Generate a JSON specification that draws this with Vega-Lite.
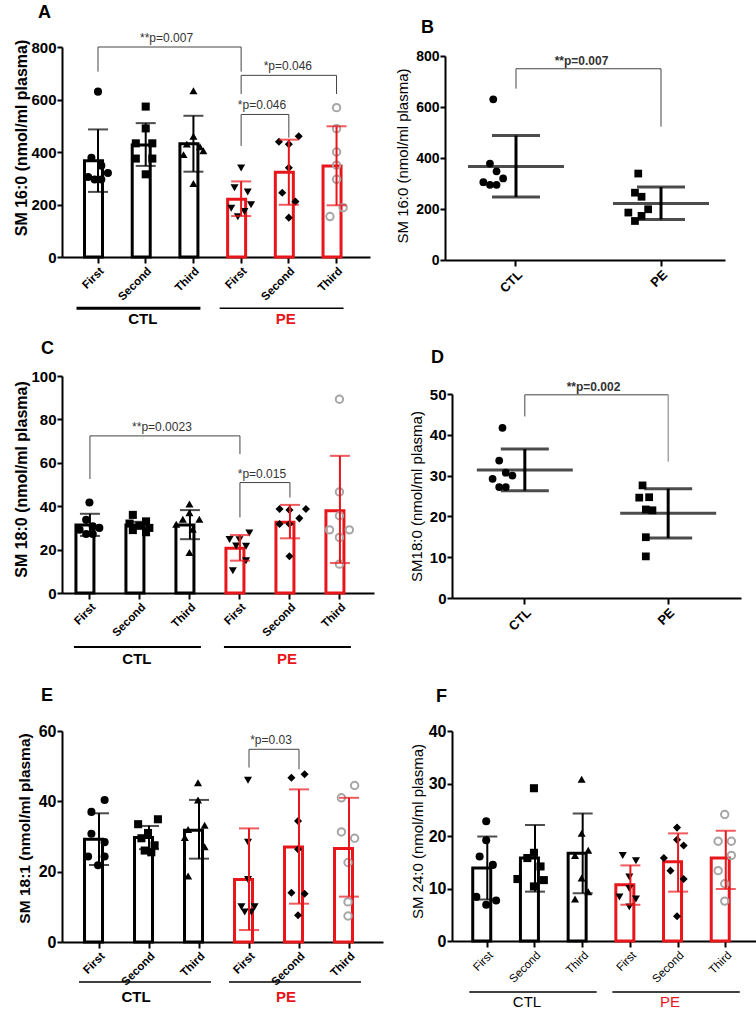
{
"$schema": "https://vega.github.io/schema/vega-lite/v6.json",
"background": "white",
"padding": {"left": 12, "top": 4, "right": 0, "bottom": 0},
"columns": 2,
"spacing": {"row": 116, "column": 69},
"bounds": "flush",
"align": "each",
"datasets": {
"grp": [
{"g":"CTL","c1":"CTL First","c2":"CTL Second","c3":"CTL Third"},
{"g":"PE","c1":"PE First","c2":"PE Second","c3":"PE Third"}
],
"br": [
{"p":"A","a":"CTL First","b":"PE First","top":800,"la":706,"lb":706,"t":"**p=0.007","tc":"CTL Second","mode":"mid"},
{"p":"A","a":"PE First","b":"PE Third","top":692,"la":621,"lb":621,"t":"*p=0.046","tc":"PE Second","mode":"at"},
{"p":"A","a":"PE First","b":"PE Second","top":543,"la":423,"lb":455,"t":"*p=0.046","tc":"PE First","mode":"mid"},
{"p":"B","a":"CTL","b":"PE","top":750,"la":672,"lb":523,"t":"**p=0.007","tc":"CTL","mode":"mid"},
{"p":"C","a":"CTL First","b":"PE First","top":72.4,"la":52.5,"lb":64,"t":"**p=0.0023","tc":"CTL Second","mode":"mid"},
{"p":"C","a":"PE First","b":"PE Second","top":50.9,"la":34.8,"lb":44,"t":"*p=0.015","tc":"PE First","mode":"mid"},
{"p":"D","a":"CTL","b":"PE","top":49.8,"la":44.5,"lb":33.4,"t":"**p=0.002","tc":"CTL","mode":"mid"},
{"p":"E","a":"PE First","b":"PE Second","top":54.8,"la":49.6,"lb":49.1,"t":"*p=0.03","tc":"PE First","mode":"mid"}
],
"summ": [
{"p":"A","g":"CTL","cat":"CTL First","m":367,"lo":248,"hi":486},
{"p":"A","g":"CTL","cat":"CTL Second","m":427,"lo":347,"hi":510},
{"p":"A","g":"CTL","cat":"CTL Third","m":431,"lo":325,"hi":538},
{"p":"A","g":"PE","cat":"PE First","m":220,"lo":156,"hi":288},
{"p":"A","g":"PE","cat":"PE Second","m":323,"lo":199,"hi":447},
{"p":"A","g":"PE","cat":"PE Third","m":347,"lo":197,"hi":498},
{"p":"B","g":"CTL","cat":"CTL","m":367,"lo":247,"hi":488},
{"p":"B","g":"PE","cat":"PE","m":222,"lo":159,"hi":286},
{"p":"C","g":"CTL","cat":"CTL First","m":31.3,"lo":26.3,"hi":36.5},
{"p":"C","g":"CTL","cat":"CTL Second","m":31.3,"lo":29.8,"hi":32.8},
{"p":"C","g":"CTL","cat":"CTL Third","m":31.3,"lo":24.8,"hi":38.2},
{"p":"C","g":"PE","cat":"PE First","m":20.6,"lo":14.9,"hi":26.7},
{"p":"C","g":"PE","cat":"PE Second","m":32.6,"lo":25.2,"hi":40.6},
{"p":"C","g":"PE","cat":"PE Third","m":37.9,"lo":13.8,"hi":63.2},
{"p":"D","g":"CTL","cat":"CTL","m":31.4,"lo":26.3,"hi":36.5},
{"p":"D","g":"PE","cat":"PE","m":20.8,"lo":14.7,"hi":26.8},
{"p":"E","g":"CTL","cat":"CTL First","m":29.2,"lo":21.9,"hi":36.6},
{"p":"E","g":"CTL","cat":"CTL Second","m":29.7,"lo":26.4,"hi":33},
{"p":"E","g":"CTL","cat":"CTL Third","m":31.8,"lo":23.7,"hi":40.4},
{"p":"E","g":"PE","cat":"PE First","m":17.8,"lo":3.4,"hi":32.3},
{"p":"E","g":"PE","cat":"PE Second","m":27,"lo":10.9,"hi":43.4},
{"p":"E","g":"PE","cat":"PE Third","m":26.6,"lo":12.9,"hi":41},
{"p":"F","g":"CTL","cat":"CTL First","m":13.9,"lo":7.9,"hi":19.9},
{"p":"F","g":"CTL","cat":"CTL Second","m":15.8,"lo":9.4,"hi":22.1},
{"p":"F","g":"CTL","cat":"CTL Third","m":16.7,"lo":9.1,"hi":24.3},
{"p":"F","g":"PE","cat":"PE First","m":10.7,"lo":6.9,"hi":14.4},
{"p":"F","g":"PE","cat":"PE Second","m":15.1,"lo":9.4,"hi":20.5},
{"p":"F","g":"PE","cat":"PE Third","m":15.8,"lo":9.9,"hi":21}
],
"pts": [
{"p":"A","cat":"CTL First","v":630,"j":0},{"p":"A","cat":"CTL First","v":378,"j":-2},{"p":"A","cat":"CTL First","v":348,"j":1},{"p":"A","cat":"CTL First","v":320,"j":3},{"p":"A","cat":"CTL First","v":305,"j":-3},{"p":"A","cat":"CTL First","v":295,"j":-1},{"p":"A","cat":"CTL First","v":295,"j":1},
{"p":"A","cat":"CTL Second","v":573,"j":0},{"p":"A","cat":"CTL Second","v":490,"j":0},{"p":"A","cat":"CTL Second","v":433,"j":-3},{"p":"A","cat":"CTL Second","v":433,"j":2},{"p":"A","cat":"CTL Second","v":375,"j":-3},{"p":"A","cat":"CTL Second","v":375,"j":2},{"p":"A","cat":"CTL Second","v":315,"j":0},
{"p":"A","cat":"CTL Third","v":633,"j":0},{"p":"A","cat":"CTL Third","v":460,"j":0},{"p":"A","cat":"CTL Third","v":430,"j":-2},{"p":"A","cat":"CTL Third","v":420,"j":2},{"p":"A","cat":"CTL Third","v":405,"j":3},{"p":"A","cat":"CTL Third","v":390,"j":-3},{"p":"A","cat":"CTL Third","v":280,"j":0},
{"p":"A","cat":"PE First","v":339,"j":0},{"p":"A","cat":"PE First","v":264,"j":-2},{"p":"A","cat":"PE First","v":248,"j":2},{"p":"A","cat":"PE First","v":199,"j":3},{"p":"A","cat":"PE First","v":186,"j":-3},{"p":"A","cat":"PE First","v":173,"j":1},{"p":"A","cat":"PE First","v":153,"j":-1},
{"p":"A","cat":"PE Second","v":460,"j":3},{"p":"A","cat":"PE Second","v":439,"j":-3},{"p":"A","cat":"PE Second","v":430,"j":0},{"p":"A","cat":"PE Second","v":340,"j":0},{"p":"A","cat":"PE Second","v":245,"j":-2},{"p":"A","cat":"PE Second","v":211,"j":2},{"p":"A","cat":"PE Second","v":150,"j":0},
{"p":"A","cat":"PE Third","v":569,"j":0},{"p":"A","cat":"PE Third","v":489,"j":0},{"p":"A","cat":"PE Third","v":400,"j":0},{"p":"A","cat":"PE Third","v":350,"j":0},{"p":"A","cat":"PE Third","v":296,"j":0},{"p":"A","cat":"PE Third","v":188,"j":2},{"p":"A","cat":"PE Third","v":154,"j":-2},
{"p":"B","cat":"CTL","v":630,"j":0},{"p":"B","cat":"CTL","v":378,"j":-1},{"p":"B","cat":"CTL","v":348,"j":1},{"p":"B","cat":"CTL","v":320,"j":3},{"p":"B","cat":"CTL","v":305,"j":-3},{"p":"B","cat":"CTL","v":295,"j":-1},{"p":"B","cat":"CTL","v":295,"j":1},
{"p":"B","cat":"PE","v":339,"j":0},{"p":"B","cat":"PE","v":264,"j":-1},{"p":"B","cat":"PE","v":248,"j":1},{"p":"B","cat":"PE","v":199,"j":3},{"p":"B","cat":"PE","v":186,"j":-3},{"p":"B","cat":"PE","v":173,"j":1},{"p":"B","cat":"PE","v":153,"j":-1},
{"p":"C","cat":"CTL First","v":41.7,"j":0},{"p":"C","cat":"CTL First","v":33.7,"j":-1},{"p":"C","cat":"CTL First","v":30.7,"j":1},{"p":"C","cat":"CTL First","v":30,"j":3},{"p":"C","cat":"CTL First","v":29.2,"j":-3},{"p":"C","cat":"CTL First","v":27.2,"j":-1},{"p":"C","cat":"CTL First","v":27.2,"j":1},
{"p":"C","cat":"CTL Second","v":36,"j":-2},{"p":"C","cat":"CTL Second","v":33,"j":2},{"p":"C","cat":"CTL Second","v":32,"j":-3},{"p":"C","cat":"CTL Second","v":31,"j":0},{"p":"C","cat":"CTL Second","v":30,"j":3},{"p":"C","cat":"CTL Second","v":29,"j":-2},{"p":"C","cat":"CTL Second","v":28,"j":2},
{"p":"C","cat":"CTL Third","v":41,"j":0},{"p":"C","cat":"CTL Third","v":37,"j":0},{"p":"C","cat":"CTL Third","v":34,"j":-2},{"p":"C","cat":"CTL Third","v":34,"j":3},{"p":"C","cat":"CTL Third","v":31.7,"j":-4},{"p":"C","cat":"CTL Third","v":29.4,"j":1},{"p":"C","cat":"CTL Third","v":18.7,"j":0},
{"p":"C","cat":"PE First","v":27.6,"j":3},{"p":"C","cat":"PE First","v":24.7,"j":-3},{"p":"C","cat":"PE First","v":24.6,"j":0},{"p":"C","cat":"PE First","v":21.7,"j":-1},{"p":"C","cat":"PE First","v":21.5,"j":2},{"p":"C","cat":"PE First","v":14.9,"j":2},{"p":"C","cat":"PE First","v":10.2,"j":-2},
{"p":"C","cat":"PE Second","v":38.7,"j":-3},{"p":"C","cat":"PE Second","v":38.3,"j":0},{"p":"C","cat":"PE Second","v":38.7,"j":5},{"p":"C","cat":"PE Second","v":31.8,"j":-3},{"p":"C","cat":"PE Second","v":31.8,"j":0},{"p":"C","cat":"PE Second","v":34.4,"j":3},{"p":"C","cat":"PE Second","v":16.9,"j":0},
{"p":"C","cat":"PE Third","v":89.3,"j":0},{"p":"C","cat":"PE Third","v":46.6,"j":0},{"p":"C","cat":"PE Third","v":35.6,"j":0},{"p":"C","cat":"PE Third","v":29.1,"j":-3},{"p":"C","cat":"PE Third","v":29.1,"j":3},{"p":"C","cat":"PE Third","v":25.6,"j":0},{"p":"C","cat":"PE Third","v":13.3,"j":0},
{"p":"D","cat":"CTL","v":41.7,"j":0},{"p":"D","cat":"CTL","v":33.7,"j":-1},{"p":"D","cat":"CTL","v":30.7,"j":1},{"p":"D","cat":"CTL","v":30,"j":3},{"p":"D","cat":"CTL","v":29.2,"j":-3},{"p":"D","cat":"CTL","v":27.2,"j":-1},{"p":"D","cat":"CTL","v":27.2,"j":1},
{"p":"D","cat":"PE","v":27.6,"j":-1},{"p":"D","cat":"PE","v":24.7,"j":1},{"p":"D","cat":"PE","v":24.6,"j":-2},{"p":"D","cat":"PE","v":21.7,"j":0},{"p":"D","cat":"PE","v":21.5,"j":2},{"p":"D","cat":"PE","v":14.9,"j":0},{"p":"D","cat":"PE","v":10.2,"j":0},
{"p":"E","cat":"CTL First","v":40.4,"j":2},{"p":"E","cat":"CTL First","v":37,"j":-2},{"p":"E","cat":"CTL First","v":30.8,"j":-2},{"p":"E","cat":"CTL First","v":28.4,"j":2},{"p":"E","cat":"CTL First","v":24.3,"j":-3},{"p":"E","cat":"CTL First","v":24.3,"j":2},{"p":"E","cat":"CTL First","v":21.8,"j":0},
{"p":"E","cat":"CTL Second","v":34.9,"j":3},{"p":"E","cat":"CTL Second","v":33.5,"j":-3},{"p":"E","cat":"CTL Second","v":31,"j":0},{"p":"E","cat":"CTL Second","v":29.5,"j":-2},{"p":"E","cat":"CTL Second","v":27.5,"j":2},{"p":"E","cat":"CTL Second","v":26,"j":-1},{"p":"E","cat":"CTL Second","v":25.5,"j":1},
{"p":"E","cat":"CTL Third","v":45.3,"j":0},{"p":"E","cat":"CTL Third","v":40.4,"j":0},{"p":"E","cat":"CTL Third","v":33.2,"j":2},{"p":"E","cat":"CTL Third","v":32,"j":-3},{"p":"E","cat":"CTL Third","v":29.7,"j":-4},{"p":"E","cat":"CTL Third","v":27.1,"j":2},{"p":"E","cat":"CTL Third","v":18.8,"j":-3},
{"p":"E","cat":"PE First","v":46,"j":0},{"p":"E","cat":"PE First","v":28.4,"j":0},{"p":"E","cat":"PE First","v":17.8,"j":0},{"p":"E","cat":"PE First","v":10,"j":-2},{"p":"E","cat":"PE First","v":10,"j":2},{"p":"E","cat":"PE First","v":8.5,"j":-1},{"p":"E","cat":"PE First","v":8.5,"j":1},
{"p":"E","cat":"PE Second","v":47.7,"j":2},{"p":"E","cat":"PE Second","v":46.7,"j":-2},{"p":"E","cat":"PE Second","v":34.4,"j":0},{"p":"E","cat":"PE Second","v":26.4,"j":0},{"p":"E","cat":"PE Second","v":14,"j":-2},{"p":"E","cat":"PE Second","v":13.7,"j":2},{"p":"E","cat":"PE Second","v":7.6,"j":0},
{"p":"E","cat":"PE Third","v":44.5,"j":2},{"p":"E","cat":"PE Third","v":41,"j":-2},{"p":"E","cat":"PE Third","v":31.3,"j":-2},{"p":"E","cat":"PE Third","v":29.5,"j":2},{"p":"E","cat":"PE Third","v":22.6,"j":0},{"p":"E","cat":"PE Third","v":11.4,"j":0},{"p":"E","cat":"PE Third","v":7.4,"j":0},
{"p":"F","cat":"CTL First","v":22.8,"j":0},{"p":"F","cat":"CTL First","v":19.2,"j":0},{"p":"F","cat":"CTL First","v":16.1,"j":-2},{"p":"F","cat":"CTL First","v":14.5,"j":2},{"p":"F","cat":"CTL First","v":8.4,"j":-3},{"p":"F","cat":"CTL First","v":7.7,"j":3},{"p":"F","cat":"CTL First","v":6.9,"j":0},
{"p":"F","cat":"CTL Second","v":29.1,"j":0},{"p":"F","cat":"CTL Second","v":16.8,"j":0},{"p":"F","cat":"CTL Second","v":15.8,"j":-2},{"p":"F","cat":"CTL Second","v":14.2,"j":2},{"p":"F","cat":"CTL Second","v":11.8,"j":-5},{"p":"F","cat":"CTL Second","v":11.6,"j":3},{"p":"F","cat":"CTL Second","v":10.4,"j":0},
{"p":"F","cat":"CTL Third","v":30.8,"j":0},{"p":"F","cat":"CTL Third","v":20.5,"j":0},{"p":"F","cat":"CTL Third","v":17.3,"j":2},{"p":"F","cat":"CTL Third","v":16.3,"j":-2},{"p":"F","cat":"CTL Third","v":12,"j":0},{"p":"F","cat":"CTL Third","v":9.4,"j":2},{"p":"F","cat":"CTL Third","v":8,"j":-2},
{"p":"F","cat":"PE First","v":16.3,"j":-2},{"p":"F","cat":"PE First","v":15.3,"j":2},{"p":"F","cat":"PE First","v":12.2,"j":0},{"p":"F","cat":"PE First","v":10,"j":0},{"p":"F","cat":"PE First","v":8.4,"j":-3},{"p":"F","cat":"PE First","v":8,"j":2},{"p":"F","cat":"PE First","v":6.5,"j":0},
{"p":"F","cat":"PE Second","v":21.6,"j":0},{"p":"F","cat":"PE Second","v":19.3,"j":0},{"p":"F","cat":"PE Second","v":18.2,"j":2},{"p":"F","cat":"PE Second","v":15.8,"j":-4},{"p":"F","cat":"PE Second","v":13.4,"j":-2},{"p":"F","cat":"PE Second","v":11.8,"j":2},{"p":"F","cat":"PE Second","v":4.7,"j":0},
{"p":"F","cat":"PE Third","v":24.1,"j":0},{"p":"F","cat":"PE Third","v":19,"j":-2},{"p":"F","cat":"PE Third","v":19,"j":2},{"p":"F","cat":"PE Third","v":16.3,"j":2},{"p":"F","cat":"PE Third","v":13.4,"j":-2},{"p":"F","cat":"PE Third","v":10.9,"j":0},{"p":"F","cat":"PE Third","v":7.6,"j":0}
]
},
"concat": [
{
"width": 308, "height": 210,
"title": {"text": "A", "dx": -24, "dy": -6},
"layer": [
{"data":{"name":"summ"},"transform":[{"filter":"datum.p=='A'"}],"mark":{"type":"bar","fill":"white","strokeWidth":3},
"encoding":{"x":{"field":"cat","type":"nominal","scale":{"domain":["CTL First","CTL Second","CTL Third","PE First","PE Second","PE Third"],"paddingInner":0.434,"paddingOuter":0.445,"align":0.53},"axis":{"title":null,"labelExpr":"split(datum.label,' ')[1]","labelFontSize":11.5}},
"y":{"field":"m","type":"quantitative","scale":{"domain":[0,800],"nice":false},"axis":{"title":"SM 16:0 (nmol/ml plasma)","values":[0,200,400,600,800],"titleX":-41,"titleY":90.5,"titleFontSize":16,"titleFontWeight":"bold"}},
"stroke":{"field":"g","type":"nominal","scale":{"domain":["CTL","PE"],"range":["#000000","#e8161b"]},"legend":null}}},
{"data":{"name":"pts"},"transform":[{"filter":"datum.p=='A' && datum.cat!='PE Third'"}],"mark":{"type":"point","filled":true,"color":"#000","size":65,"opacity":1},
"encoding":{"x":{"field":"cat","type":"nominal"},"xOffset":{"field":"j","type":"quantitative","scale":{"domain":[-6,6],"range":[-6.3,33.3]}},"y":{"field":"v","type":"quantitative"},
"shape":{"field":"cat","type":"nominal","scale":{"domain":["CTL First","CTL Second","CTL Third","PE First","PE Second","PE Third"],"range":["circle","square","triangle-up","triangle-down","diamond","circle"]},"legend":null}}},
{"data":{"name":"pts"},"transform":[{"filter":"datum.p=='A' && datum.cat=='PE Third'"}],"mark":{"type":"point","filled":false,"shape":"circle","color":"#a6a6a6","strokeWidth":2,"size":55,"opacity":1},
"encoding":{"x":{"field":"cat","type":"nominal"},"xOffset":{"field":"j","type":"quantitative","scale":{"domain":[-6,6],"range":[-6.3,33.3]}},"y":{"field":"v","type":"quantitative"}}},
{"data":{"name":"summ"},"transform":[{"filter":"datum.p=='A'"}],"mark":{"type":"rule","strokeWidth":2},
"encoding":{"x":{"field":"cat","type":"nominal"},"y":{"field":"lo","type":"quantitative"},"y2":{"field":"hi"},"color":{"field":"g","type":"nominal","scale":{"domain":["CTL","PE"],"range":["#000000","#e8161b"]},"legend":null}}},
{"data":{"name":"summ"},"transform":[{"filter":"datum.p=='A'"},{"fold":["lo","hi"],"as":["k","e"]}],"mark":{"type":"tick","thickness":2,"size":20},
"encoding":{"x":{"field":"cat","type":"nominal"},"y":{"field":"e","type":"quantitative"},"color":{"field":"g","type":"nominal","scale":{"domain":["CTL","PE"],"range":["#000000","#e8161b"]},"legend":null}}},
{"data":{"name":"br"},"transform":[{"filter":"datum.p=='A'"}],"mark":{"type":"rule","color":"#444","strokeWidth":1},
"encoding":{"x":{"field":"a","type":"nominal"},"x2":{"field":"b"},"y":{"field":"top","type":"quantitative"}}},
{"data":{"name":"br"},"transform":[{"filter":"datum.p=='A'"}],"mark":{"type":"rule","color":"#444","strokeWidth":1},
"encoding":{"x":{"field":"a","type":"nominal"},"y":{"field":"la","type":"quantitative"},"y2":{"field":"top"}}},
{"data":{"name":"br"},"transform":[{"filter":"datum.p=='A'"}],"mark":{"type":"rule","color":"#444","strokeWidth":1},
"encoding":{"x":{"field":"b","type":"nominal"},"y":{"field":"lb","type":"quantitative"},"y2":{"field":"top"}}},
{"data":{"name":"br"},"transform":[{"filter":"datum.p=='A' && datum.mode=='mid'"}],"mark":{"type":"text","fontSize":12,"color":"#333","dy":-5,"dx":-3,"baseline":"alphabetic"},
"encoding":{"x":{"field":"tc","type":"nominal","bandPosition":1.383},"y":{"field":"top","type":"quantitative"},"text":{"field":"t"}}},
{"data":{"name":"br"},"transform":[{"filter":"datum.p=='A' && datum.mode=='at'"}],"mark":{"type":"text","fontSize":12,"color":"#333","dy":-5,"dx":-1,"baseline":"alphabetic"},
"encoding":{"x":{"field":"tc","type":"nominal"},"y":{"field":"top","type":"quantitative"},"text":{"field":"t"}}},
{"data":{"name":"grp"},"mark":{"type":"rule","color":"#000","yOffset":51.3,"xOffset":-21.5,"x2Offset":7},
"encoding":{"x":{"field":"c1","type":"nominal"},"x2":{"field":"c3"},"y":{"datum":0},"strokeWidth":{"field":"g","type":"nominal","scale":{"domain":["CTL","PE"],"range":[3,1.5]},"legend":null}}},
{"data":{"name":"grp"},"mark":{"type":"text","fontSize":15,"fontWeight":"bold","dy":62,"dx":-3,"baseline":"middle"},
"encoding":{"x":{"field":"c2","type":"nominal"},"y":{"datum":0},"text":{"field":"g"},"color":{"field":"g","type":"nominal","scale":{"domain":["CTL","PE"],"range":["#000000","#e8161b"]},"legend":null}}}
]
},
{
"width": 273, "height": 213,
"title": {"text": "B", "dx": -31, "dy": -6},
"layer": [
{"data":{"name":"summ"},"transform":[{"filter":"datum.p=='B'"}],"mark":{"type":"rule","strokeWidth":3,"color":"#000"},
"encoding":{"x":{"field":"cat","type":"nominal","scale":{"domain":["CTL","PE"],"range":[-7,273],"paddingInner":0.5,"paddingOuter":0.2155,"align":0.556},"axis":{"title":null,"labelFontSize":13}},
"y":{"field":"lo","type":"quantitative","scale":{"domain":[0,800],"nice":false,"range":[213,9]},"axis":{"title":"SM 16:0 (nmol/ml plasma)","values":[0,200,400,600,800],"offset":7,"titleX":-43,"titleY":108.5,"titleFontSize":15,"titleFontWeight":"normal","labelFontSize":14}},
"y2":{"field":"hi"}}},
{"data":{"name":"summ"},"transform":[{"filter":"datum.p=='B'"}],"mark":{"type":"tick","thickness":3,"size":96,"color":"#000"},
"encoding":{"x":{"field":"cat","type":"nominal"},"y":{"field":"m","type":"quantitative"}}},
{"data":{"name":"summ"},"transform":[{"filter":"datum.p=='B'"},{"fold":["lo","hi"],"as":["k","e"]}],"mark":{"type":"tick","thickness":3,"size":48,"color":"#000"},
"encoding":{"x":{"field":"cat","type":"nominal"},"y":{"field":"e","type":"quantitative"}}},
{"data":{"name":"pts"},"transform":[{"filter":"datum.p=='B'"}],"mark":{"type":"point","filled":true,"size":60,"color":"#000","opacity":1},
"encoding":{"x":{"field":"cat","type":"nominal"},"xOffset":{"field":"j","type":"quantitative","scale":{"domain":[-6,6],"range":[1.45,71.05]}},"y":{"field":"v","type":"quantitative"},
"shape":{"field":"cat","type":"nominal","scale":{"domain":["CTL","PE"],"range":["circle","square"]},"legend":null}}},
{"data":{"name":"br"},"transform":[{"filter":"datum.p=='B'"}],"mark":{"type":"rule","color":"#444","strokeWidth":1},
"encoding":{"x":{"field":"a","type":"nominal"},"x2":{"field":"b"},"y":{"field":"top","type":"quantitative"}}},
{"data":{"name":"br"},"transform":[{"filter":"datum.p=='B'"}],"mark":{"type":"rule","color":"#444","strokeWidth":1},
"encoding":{"x":{"field":"a","type":"nominal"},"y":{"field":"la","type":"quantitative"},"y2":{"field":"top"}}},
{"data":{"name":"br"},"transform":[{"filter":"datum.p=='B'"}],"mark":{"type":"rule","color":"#444","strokeWidth":1},
"encoding":{"x":{"field":"b","type":"nominal"},"y":{"field":"lb","type":"quantitative"},"y2":{"field":"top"}}},
{"data":{"name":"br"},"transform":[{"filter":"datum.p=='B'"}],"mark":{"type":"text","fontSize":12,"fontWeight":"bold","color":"#333","dy":-4,"dx":-7,"baseline":"alphabetic"},
"encoding":{"x":{"field":"tc","type":"nominal","bandPosition":1.5},"y":{"field":"top","type":"quantitative"},"text":{"field":"t"}}}
]
},
{
"width": 312, "height": 217,
"title": {"text": "C", "dx": -21, "dy": -7},
"layer": [
{"data":{"name":"summ"},"transform":[{"filter":"datum.p=='C'"}],"mark":{"type":"bar","fill":"white","strokeWidth":3},
"encoding":{"x":{"field":"cat","type":"nominal","scale":{"domain":["CTL First","CTL Second","CTL Third","PE First","PE Second","PE Third"],"paddingInner":0.44,"paddingOuter":0.34,"align":0.41},"axis":{"title":null,"labelExpr":"split(datum.label,' ')[1]","labelFontSize":11.5}},
"y":{"field":"m","type":"quantitative","scale":{"domain":[0,100],"nice":false},"axis":{"title":"SM 18:0 (nmol/ml plasma)","values":[0,20,40,60,80,100],"titleX":-41,"titleY":103,"titleFontSize":16,"titleFontWeight":"bold"}},
"stroke":{"field":"g","type":"nominal","scale":{"domain":["CTL","PE"],"range":["#000000","#e8161b"]},"legend":null}}},
{"data":{"name":"pts"},"transform":[{"filter":"datum.p=='C' && datum.cat!='PE Third'"}],"mark":{"type":"point","filled":true,"color":"#000","size":65,"opacity":1},
"encoding":{"x":{"field":"cat","type":"nominal"},"xOffset":{"field":"j","type":"quantitative","scale":{"domain":[-6,6],"range":[-5.8,33.8]}},"y":{"field":"v","type":"quantitative"},
"shape":{"field":"cat","type":"nominal","scale":{"domain":["CTL First","CTL Second","CTL Third","PE First","PE Second","PE Third"],"range":["circle","square","triangle-up","triangle-down","diamond","circle"]},"legend":null}}},
{"data":{"name":"pts"},"transform":[{"filter":"datum.p=='C' && datum.cat=='PE Third'"}],"mark":{"type":"point","filled":false,"shape":"circle","color":"#a6a6a6","strokeWidth":2,"size":55,"opacity":1},
"encoding":{"x":{"field":"cat","type":"nominal"},"xOffset":{"field":"j","type":"quantitative","scale":{"domain":[-6,6],"range":[-5.8,33.8]}},"y":{"field":"v","type":"quantitative"}}},
{"data":{"name":"summ"},"transform":[{"filter":"datum.p=='C'"}],"mark":{"type":"rule","strokeWidth":2},
"encoding":{"x":{"field":"cat","type":"nominal"},"y":{"field":"lo","type":"quantitative"},"y2":{"field":"hi"},"color":{"field":"g","type":"nominal","scale":{"domain":["CTL","PE"],"range":["#000000","#e8161b"]},"legend":null}}},
{"data":{"name":"summ"},"transform":[{"filter":"datum.p=='C'"},{"fold":["lo","hi"],"as":["k","e"]}],"mark":{"type":"tick","thickness":2,"size":20},
"encoding":{"x":{"field":"cat","type":"nominal"},"y":{"field":"e","type":"quantitative"},"color":{"field":"g","type":"nominal","scale":{"domain":["CTL","PE"],"range":["#000000","#e8161b"]},"legend":null}}},
{"data":{"name":"br"},"transform":[{"filter":"datum.p=='C'"}],"mark":{"type":"rule","color":"#444","strokeWidth":1},
"encoding":{"x":{"field":"a","type":"nominal"},"x2":{"field":"b"},"y":{"field":"top","type":"quantitative"}}},
{"data":{"name":"br"},"transform":[{"filter":"datum.p=='C'"}],"mark":{"type":"rule","color":"#444","strokeWidth":1},
"encoding":{"x":{"field":"a","type":"nominal"},"y":{"field":"la","type":"quantitative"},"y2":{"field":"top"}}},
{"data":{"name":"br"},"transform":[{"filter":"datum.p=='C'"}],"mark":{"type":"rule","color":"#444","strokeWidth":1},
"encoding":{"x":{"field":"b","type":"nominal"},"y":{"field":"lb","type":"quantitative"},"y2":{"field":"top"}}},
{"data":{"name":"br"},"transform":[{"filter":"datum.p=='C'"}],"mark":{"type":"text","fontSize":12,"color":"#333","dy":-5,"dx":-3,"baseline":"alphabetic"},
"encoding":{"x":{"field":"tc","type":"nominal","bandPosition":1.393},"y":{"field":"top","type":"quantitative"},"text":{"field":"t"}}},
{"data":{"name":"grp"},"mark":{"type":"rule","color":"#000","yOffset":54,"xOffset":-16,"x2Offset":11,"strokeWidth":2},
"encoding":{"x":{"field":"c1","type":"nominal"},"x2":{"field":"c3"},"y":{"datum":0}}},
{"data":{"name":"grp"},"mark":{"type":"text","fontSize":15,"fontWeight":"bold","dy":66,"dx":-3,"baseline":"middle"},
"encoding":{"x":{"field":"c2","type":"nominal"},"y":{"datum":0},"text":{"field":"g"},"color":{"field":"g","type":"nominal","scale":{"domain":["CTL","PE"],"range":["#000000","#e8161b"]},"legend":null}}}
]
},
{
"width": 289, "height": 222,
"title": {"text": "D", "dx": -21, "dy": -5},
"layer": [
{"data":{"name":"summ"},"transform":[{"filter":"datum.p=='D'"}],"mark":{"type":"rule","strokeWidth":3,"color":"#000"},
"encoding":{"x":{"field":"cat","type":"nominal","scale":{"domain":["CTL","PE"],"paddingInner":0.5,"paddingOuter":0.258,"align":0.5},"axis":{"title":null,"labelFontSize":13}},
"y":{"field":"lo","type":"quantitative","scale":{"domain":[0,50],"nice":false,"range":[222,18]},"axis":{"title":"SM18:0 (nmol/ml plasma)","values":[0,10,20,30,40,50],"titleX":-36,"titleY":120,"titleFontSize":15,"titleFontWeight":"normal","labelFontSize":15}},
"y2":{"field":"hi"}}},
{"data":{"name":"summ"},"transform":[{"filter":"datum.p=='D'"}],"mark":{"type":"tick","thickness":3,"size":96,"color":"#000"},
"encoding":{"x":{"field":"cat","type":"nominal"},"y":{"field":"m","type":"quantitative"}}},
{"data":{"name":"summ"},"transform":[{"filter":"datum.p=='D'"},{"fold":["lo","hi"],"as":["k","e"]}],"mark":{"type":"tick","thickness":3,"size":48,"color":"#000"},
"encoding":{"x":{"field":"cat","type":"nominal"},"y":{"field":"e","type":"quantitative"}}},
{"data":{"name":"pts"},"transform":[{"filter":"datum.p=='D'"}],"mark":{"type":"point","filled":true,"size":60,"color":"#000","opacity":1},
"encoding":{"x":{"field":"cat","type":"nominal"},"xOffset":{"field":"j","type":"quantitative","scale":{"domain":[-6,6],"range":[-0.2,71.8]}},"y":{"field":"v","type":"quantitative"},
"shape":{"field":"cat","type":"nominal","scale":{"domain":["CTL","PE"],"range":["circle","square"]},"legend":null}}},
{"data":{"name":"br"},"transform":[{"filter":"datum.p=='D'"}],"mark":{"type":"rule","color":"#444","strokeWidth":1},
"encoding":{"x":{"field":"a","type":"nominal"},"x2":{"field":"b"},"y":{"field":"top","type":"quantitative"}}},
{"data":{"name":"br"},"transform":[{"filter":"datum.p=='D'"}],"mark":{"type":"rule","color":"#444","strokeWidth":1},
"encoding":{"x":{"field":"a","type":"nominal"},"y":{"field":"la","type":"quantitative"},"y2":{"field":"top"}}},
{"data":{"name":"br"},"transform":[{"filter":"datum.p=='D'"}],"mark":{"type":"rule","color":"#777","strokeWidth":1},
"encoding":{"x":{"field":"b","type":"nominal"},"y":{"field":"lb","type":"quantitative"},"y2":{"field":"top"}}},
{"data":{"name":"br"},"transform":[{"filter":"datum.p=='D'"}],"mark":{"type":"text","fontSize":12,"fontWeight":"bold","color":"#333","dy":-4,"dx":-3,"baseline":"alphabetic"},
"encoding":{"x":{"field":"tc","type":"nominal","bandPosition":1.5},"y":{"field":"top","type":"quantitative"},"text":{"field":"t"}}}
]
},
{
"width": 321, "height": 228,
"title": {"text": "E", "dx": -21, "dy": -5},
"layer": [
{"data":{"name":"summ"},"transform":[{"filter":"datum.p=='E'"}],"mark":{"type":"bar","fill":"white","strokeWidth":3},
"encoding":{"x":{"field":"cat","type":"nominal","scale":{"domain":["CTL First","CTL Second","CTL Third","PE First","PE Second","PE Third"],"paddingInner":0.42,"paddingOuter":0.42,"align":0.536},"axis":{"title":null,"labelExpr":"split(datum.label,' ')[1]","labelFontSize":11.5}},
"y":{"field":"m","type":"quantitative","scale":{"domain":[0,60],"nice":false,"range":[228,17]},"axis":{"title":"SM 18:1 (nmol/ml plasma)","values":[0,20,40,60],"titleX":-38,"titleY":114,"titleFontSize":15.5,"titleFontWeight":"bold","labelFontSize":16}},
"stroke":{"field":"g","type":"nominal","scale":{"domain":["CTL","PE"],"range":["#000000","#e8161b"]},"legend":null}}},
{"data":{"name":"pts"},"transform":[{"filter":"datum.p=='E' && datum.cat!='PE Third'"}],"mark":{"type":"point","filled":true,"color":"#000","size":65,"opacity":1},
"encoding":{"x":{"field":"cat","type":"nominal"},"xOffset":{"field":"j","type":"quantitative","scale":{"domain":[-6,6],"range":[-5.3,34.3]}},"y":{"field":"v","type":"quantitative"},
"shape":{"field":"cat","type":"nominal","scale":{"domain":["CTL First","CTL Second","CTL Third","PE First","PE Second","PE Third"],"range":["circle","square","triangle-up","triangle-down","diamond","circle"]},"legend":null}}},
{"data":{"name":"pts"},"transform":[{"filter":"datum.p=='E' && datum.cat=='PE Third'"}],"mark":{"type":"point","filled":false,"shape":"circle","color":"#a6a6a6","strokeWidth":2,"size":55,"opacity":1},
"encoding":{"x":{"field":"cat","type":"nominal"},"xOffset":{"field":"j","type":"quantitative","scale":{"domain":[-6,6],"range":[-5.3,34.3]}},"y":{"field":"v","type":"quantitative"}}},
{"data":{"name":"summ"},"transform":[{"filter":"datum.p=='E'"}],"mark":{"type":"rule","strokeWidth":2},
"encoding":{"x":{"field":"cat","type":"nominal"},"y":{"field":"lo","type":"quantitative"},"y2":{"field":"hi"},"color":{"field":"g","type":"nominal","scale":{"domain":["CTL","PE"],"range":["#000000","#e8161b"]},"legend":null}}},
{"data":{"name":"summ"},"transform":[{"filter":"datum.p=='E'"},{"fold":["lo","hi"],"as":["k","e"]}],"mark":{"type":"tick","thickness":2,"size":20},
"encoding":{"x":{"field":"cat","type":"nominal"},"y":{"field":"e","type":"quantitative"},"color":{"field":"g","type":"nominal","scale":{"domain":["CTL","PE"],"range":["#000000","#e8161b"]},"legend":null}}},
{"data":{"name":"br"},"transform":[{"filter":"datum.p=='E'"}],"mark":{"type":"rule","color":"#444","strokeWidth":1},
"encoding":{"x":{"field":"a","type":"nominal"},"x2":{"field":"b"},"y":{"field":"top","type":"quantitative"}}},
{"data":{"name":"br"},"transform":[{"filter":"datum.p=='E'"}],"mark":{"type":"rule","color":"#444","strokeWidth":1},
"encoding":{"x":{"field":"a","type":"nominal"},"y":{"field":"la","type":"quantitative"},"y2":{"field":"top"}}},
{"data":{"name":"br"},"transform":[{"filter":"datum.p=='E'"}],"mark":{"type":"rule","color":"#444","strokeWidth":1},
"encoding":{"x":{"field":"b","type":"nominal"},"y":{"field":"lb","type":"quantitative"},"y2":{"field":"top"}}},
{"data":{"name":"br"},"transform":[{"filter":"datum.p=='E'"}],"mark":{"type":"text","fontSize":12,"color":"#333","dy":-5,"dx":-3,"baseline":"alphabetic"},
"encoding":{"x":{"field":"tc","type":"nominal","bandPosition":1.362},"y":{"field":"top","type":"quantitative"},"text":{"field":"t"}}},
{"data":{"name":"grp"},"mark":{"type":"rule","color":"#000","yOffset":40,"xOffset":-20,"x2Offset":12,"strokeWidth":1.5},
"encoding":{"x":{"field":"c1","type":"nominal"},"x2":{"field":"c3"},"y":{"datum":0}}},
{"data":{"name":"grp"},"mark":{"type":"text","fontSize":15,"fontWeight":"bold","dy":55,"dx":-13,"baseline":"middle"},
"encoding":{"x":{"field":"c2","type":"nominal"},"y":{"datum":0},"text":{"field":"g"},"color":{"field":"g","type":"nominal","scale":{"domain":["CTL","PE"],"range":["#000000","#e8161b"]},"legend":null}}}
]
},
{
"width": 306, "height": 227,
"title": {"text": "F", "dx": -16, "dy": -4},
"layer": [
{"data":{"name":"summ"},"transform":[{"filter":"datum.p=='F'"}],"mark":{"type":"bar","fill":"white","strokeWidth":3},
"encoding":{"x":{"field":"cat","type":"nominal","scale":{"domain":["CTL First","CTL Second","CTL Third","PE First","PE Second","PE Third"],"paddingInner":0.39,"paddingOuter":0.4025,"align":0.54},"axis":{"title":null,"labelExpr":"split(datum.label,' ')[1]","labelFontSize":11.5,"labelFontWeight":"normal"}},
"y":{"field":"m","type":"quantitative","scale":{"domain":[0,40],"nice":false,"range":[227,17]},"axis":{"title":"SM 24:0 (nmol/ml plasma)","values":[0,10,20,30,40],"titleX":-35,"titleY":117,"titleFontSize":15,"titleFontWeight":"normal","labelFontSize":16}},
"stroke":{"field":"g","type":"nominal","scale":{"domain":["CTL","PE"],"range":["#000000","#e8161b"]},"legend":null}}},
{"data":{"name":"pts"},"transform":[{"filter":"datum.p=='F' && datum.cat!='PE Third'"}],"mark":{"type":"point","filled":true,"color":"#000","size":65,"opacity":1},
"encoding":{"x":{"field":"cat","type":"nominal"},"xOffset":{"field":"j","type":"quantitative","scale":{"domain":[-6,6],"range":[-5.25,34.35]}},"y":{"field":"v","type":"quantitative"},
"shape":{"field":"cat","type":"nominal","scale":{"domain":["CTL First","CTL Second","CTL Third","PE First","PE Second","PE Third"],"range":["circle","square","triangle-up","triangle-down","diamond","circle"]},"legend":null}}},
{"data":{"name":"pts"},"transform":[{"filter":"datum.p=='F' && datum.cat=='PE Third'"}],"mark":{"type":"point","filled":false,"shape":"circle","color":"#a6a6a6","strokeWidth":2,"size":55,"opacity":1},
"encoding":{"x":{"field":"cat","type":"nominal"},"xOffset":{"field":"j","type":"quantitative","scale":{"domain":[-6,6],"range":[-5.25,34.35]}},"y":{"field":"v","type":"quantitative"}}},
{"data":{"name":"summ"},"transform":[{"filter":"datum.p=='F'"}],"mark":{"type":"rule","strokeWidth":2},
"encoding":{"x":{"field":"cat","type":"nominal"},"y":{"field":"lo","type":"quantitative"},"y2":{"field":"hi"},"color":{"field":"g","type":"nominal","scale":{"domain":["CTL","PE"],"range":["#000000","#e8161b"]},"legend":null}}},
{"data":{"name":"summ"},"transform":[{"filter":"datum.p=='F'"},{"fold":["lo","hi"],"as":["k","e"]}],"mark":{"type":"tick","thickness":2,"size":20},
"encoding":{"x":{"field":"cat","type":"nominal"},"y":{"field":"e","type":"quantitative"},"color":{"field":"g","type":"nominal","scale":{"domain":["CTL","PE"],"range":["#000000","#e8161b"]},"legend":null}}},
{"data":{"name":"grp"},"mark":{"type":"rule","color":"#000","yOffset":51,"xOffset":-18,"x2Offset":14,"strokeWidth":1.5},
"encoding":{"x":{"field":"c1","type":"nominal"},"x2":{"field":"c3"},"y":{"datum":0}}},
{"data":{"name":"grp"},"mark":{"type":"text","fontSize":15,"fontWeight":"normal","dy":61,"dx":-8,"baseline":"middle"},
"encoding":{"x":{"field":"c2","type":"nominal"},"y":{"datum":0},"text":{"field":"g"},"color":{"field":"g","type":"nominal","scale":{"domain":["CTL","PE"],"range":["#000000","#e8161b"]},"legend":null}}}
]
}
],
"config": {
"font": "Liberation Sans",
"view": {"stroke": null},
"axis": {"grid": false, "domainColor": "#000", "domainWidth": 2, "tickColor": "#000", "tickWidth": 2, "tickSize": 5, "labelColor": "#000", "titleColor": "#000", "labelFontWeight": "bold", "labelFont": "Liberation Sans", "titleFont": "Liberation Sans"},
"axisY": {"labelFontSize": 15, "labelPadding": 1, "titleAngle": 270, "titleAlign": "center", "titleBaseline": "middle"},
"axisX": {"labelAngle": -45, "tickSize": 6, "labelPadding": 2, "labelOverlap": false},
"title": {"anchor": "start", "frame": "group", "offset": 0, "fontSize": 18, "fontWeight": "bold", "color": "#000", "baseline": "alphabetic", "font": "Liberation Sans"},
"text": {"font": "Liberation Sans"}
}
}
